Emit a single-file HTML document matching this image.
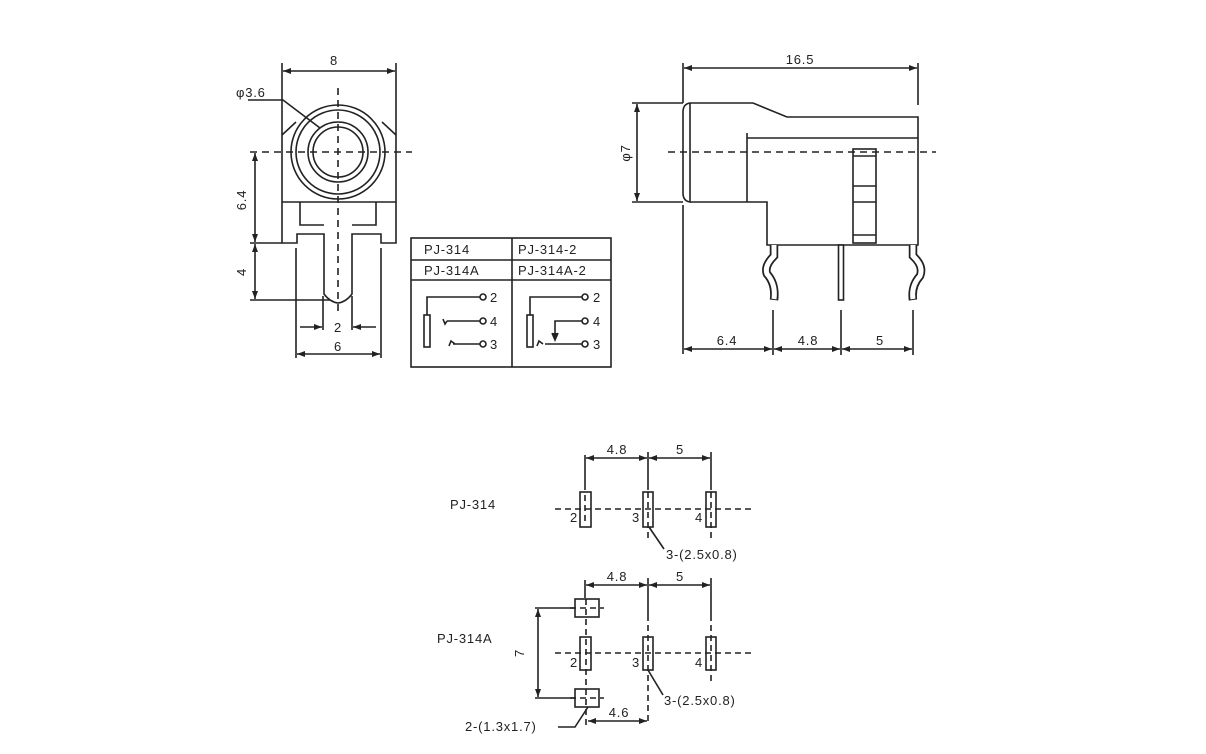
<!DOCTYPE html>
<html><head><meta charset="utf-8"><style>
html,body{margin:0;padding:0;background:#fff;}
svg{display:block;}
text{font-family:"Liberation Sans",sans-serif;font-size:13px;fill:#222;letter-spacing:0.8px;}
</style></head><body>
<svg width="1206" height="754" viewBox="0 0 1206 754" xmlns="http://www.w3.org/2000/svg">
<defs>
<marker id="a" markerWidth="8" markerHeight="6" refX="8" refY="3" orient="auto-start-reverse" markerUnits="userSpaceOnUse"><path d="M0,0 L8,3 L0,6z" fill="#222"/></marker>
</defs>
<g stroke="#222" stroke-width="1.6" fill="none">
<!-- FRONT VIEW -->
<line x1="282" y1="63" x2="282" y2="133"/><line x1="396" y1="63" x2="396" y2="133"/>
<line x1="283" y1="71" x2="395" y2="71" marker-start="url(#a)" marker-end="url(#a)"/>
<path d="M282,135 L296,122 M396,135 L382,122"/>
<circle cx="338" cy="152" r="47"/><circle cx="338" cy="152" r="42"/>
<circle cx="338" cy="152" r="30"/><circle cx="338" cy="152" r="25"/>
<path d="M282,133 L282,243 L297,243 L297,234 L324,234 L324,294 Q330,302 338,303 Q346,302 352,294 L352,234 L381,234 L381,243 L396,243 L396,133"/>
<line x1="282" y1="202" x2="396" y2="202"/>
<path d="M300,202 L300,225 L324,225 M376,202 L376,225 L352,225"/>
<g stroke-dasharray="7,5"><line x1="250" y1="152" x2="412" y2="152"/><line x1="338" y1="88" x2="338" y2="312"/></g>
<path d="M248,100 L283,100 L320,128"/>
<line x1="255" y1="153" x2="255" y2="242" marker-start="url(#a)" marker-end="url(#a)"/>
<line x1="250" y1="243" x2="282" y2="243"/>
<line x1="255" y1="244" x2="255" y2="299" marker-start="url(#a)" marker-end="url(#a)"/>
<line x1="250" y1="300" x2="330" y2="300"/>
<line x1="323" y1="296" x2="323" y2="330"/><line x1="352" y1="296" x2="352" y2="330"/>
<line x1="300" y1="327" x2="322" y2="327" marker-end="url(#a)"/><line x1="376" y1="327" x2="353" y2="327" marker-end="url(#a)"/>
<line x1="296" y1="248" x2="296" y2="358"/><line x1="381" y1="248" x2="381" y2="358"/>
<line x1="297" y1="354" x2="380" y2="354" marker-start="url(#a)" marker-end="url(#a)"/>
<!-- SIDE VIEW -->
<line x1="683" y1="63" x2="683" y2="103"/><line x1="918" y1="63" x2="918" y2="105"/>
<line x1="684" y1="68" x2="917" y2="68" marker-start="url(#a)" marker-end="url(#a)"/>
<path d="M690,103 L753,103 L787,117 L918,117 L918,245 L767,245 L767,202 L690,202"/>
<path d="M690,103 Q683,104 683,112 L683,193 Q683,201 690,202 L690,103"/>
<path d="M747,133 L747,202 M747,138 L918,138"/>
<line x1="668" y1="152" x2="936" y2="152" stroke-dasharray="7,5"/>
<rect x="853" y="149" width="23" height="94"/>
<path d="M853,156 L876,156 M853,186 L876,186 M853,202 L876,202 M853,235 L876,235"/>
<line x1="632" y1="103" x2="683" y2="103"/><line x1="632" y1="202" x2="683" y2="202"/>
<line x1="637" y1="104" x2="637" y2="201" marker-start="url(#a)" marker-end="url(#a)"/>
<line x1="683" y1="205" x2="683" y2="354"/>
<line x1="773" y1="310" x2="773" y2="355"/><line x1="841" y1="310" x2="841" y2="355"/><line x1="913" y1="310" x2="913" y2="355"/>
<line x1="684" y1="349" x2="772" y2="349" marker-start="url(#a)" marker-end="url(#a)"/>
<line x1="774" y1="349" x2="840" y2="349" marker-start="url(#a)" marker-end="url(#a)"/>
<line x1="842" y1="349" x2="912" y2="349" marker-start="url(#a)" marker-end="url(#a)"/>
</g>
<g fill="none" stroke-linecap="butt">
<path d="M774,245 L774,256 Q764,266 767,274 Q776,284 774,300" stroke="#222" stroke-width="8.5"/>
<path d="M774,245 L774,256 Q764,266 767,274 Q776,284 774,299" stroke="#fff" stroke-width="5"/>
<path d="M913,245 L913,256 Q924,266 920,276 Q911,286 913,300" stroke="#222" stroke-width="8.5"/>
<path d="M913,245 L913,256 Q924,266 920,276 Q911,286 913,299" stroke="#fff" stroke-width="5"/>
<rect x="838.5" y="245" width="5" height="55" stroke="#222" stroke-width="1.6" fill="#fff"/>
</g>
<g stroke="#222" stroke-width="1.6" fill="none">
<!-- TABLE -->
<rect x="411" y="238" width="200" height="129"/>
<line x1="411" y1="260" x2="611" y2="260"/><line x1="411" y1="280" x2="611" y2="280"/>
<line x1="512" y1="238" x2="512" y2="367"/>
<rect x="424" y="315" width="6" height="32"/>
<path d="M427,315 L427,297 L480,297 M447,321 L480,321 M443,319 L445,324 L447,321 M453,344 L480,344 M449,346 L451,341 L455,344"/>
<circle cx="483" cy="297" r="3"/><circle cx="483" cy="321" r="3"/><circle cx="483" cy="344" r="3"/>
<rect x="527" y="315" width="6" height="32"/>
<path d="M530,315 L530,297 L582,297 M555,339 L555,321 L582,321 M545,344 L582,344 M537,346 L539,341 L543,344"/>
<path d="M552,333 L555,340 L558,333" fill="#222"/>
<circle cx="585" cy="297" r="3"/><circle cx="585" cy="321" r="3"/><circle cx="585" cy="344" r="3"/>
<!-- FOOTPRINT PJ-314 -->
<line x1="585" y1="455" x2="585" y2="490"/><line x1="648" y1="452" x2="648" y2="490"/><line x1="711" y1="452" x2="711" y2="490"/>
<line x1="586" y1="458" x2="647" y2="458" marker-start="url(#a)" marker-end="url(#a)"/>
<line x1="649" y1="458" x2="710" y2="458" marker-start="url(#a)" marker-end="url(#a)"/>
<rect x="580" y="492" width="11" height="35"/><rect x="643" y="492" width="10" height="35"/><rect x="706" y="492" width="10" height="35"/>
<g stroke-dasharray="6,4"><line x1="555" y1="509" x2="755" y2="509"/><line x1="648" y1="492" x2="648" y2="542"/><line x1="711" y1="492" x2="711" y2="542"/><line x1="585" y1="495" x2="585" y2="525"/></g>
<path d="M649,527 L664,549"/>
<!-- FOOTPRINT PJ-314A -->
<line x1="585" y1="580" x2="585" y2="598"/><line x1="648" y1="578" x2="648" y2="615"/><line x1="711" y1="578" x2="711" y2="615"/>
<line x1="586" y1="585" x2="647" y2="585" marker-start="url(#a)" marker-end="url(#a)"/>
<line x1="649" y1="585" x2="710" y2="585" marker-start="url(#a)" marker-end="url(#a)"/>
<rect x="575" y="599" width="24" height="18"/><rect x="575" y="689" width="24" height="18"/>
<rect x="580" y="637" width="11" height="33"/><rect x="643" y="637" width="10" height="33"/><rect x="706" y="637" width="10" height="33"/>
<g stroke-dasharray="6,4"><line x1="555" y1="653" x2="755" y2="653"/><line x1="648" y1="615" x2="648" y2="725"/><line x1="711" y1="615" x2="711" y2="685"/><line x1="586" y1="599" x2="586" y2="725"/><line x1="570" y1="608" x2="604" y2="608"/><line x1="570" y1="698" x2="604" y2="698"/></g>
<line x1="535" y1="608" x2="575" y2="608"/><line x1="535" y1="698" x2="575" y2="698"/>
<line x1="538" y1="609" x2="538" y2="697" marker-start="url(#a)" marker-end="url(#a)"/>
<line x1="588" y1="721" x2="647" y2="721" marker-start="url(#a)" marker-end="url(#a)"/>
<path d="M558,727 L575,727 L588,707 M648,670 L663,695"/>
</g>
<!-- TEXT -->
<text x="334" y="65" text-anchor="middle">8</text>
<text x="236" y="97">φ3.6</text>
<text transform="translate(246,200) rotate(-90)" text-anchor="middle">6.4</text>
<text transform="translate(246,272) rotate(-90)" text-anchor="middle">4</text>
<text x="338" y="332" text-anchor="middle">2</text>
<text x="338" y="351" text-anchor="middle">6</text>
<text x="800" y="64" text-anchor="middle">16.5</text>
<text transform="translate(630,153) rotate(-90)" text-anchor="middle">φ7</text>
<text x="727" y="345" text-anchor="middle">6.4</text>
<text x="808" y="345" text-anchor="middle">4.8</text>
<text x="880" y="345" text-anchor="middle">5</text>
<text x="424" y="254" font-size="12">PJ-314</text>
<text x="518" y="254" font-size="12">PJ-314-2</text>
<text x="424" y="275" font-size="12">PJ-314A</text>
<text x="518" y="275" font-size="12">PJ-314A-2</text>
<text x="490" y="302">2</text><text x="490" y="326">4</text><text x="490" y="349">3</text>
<text x="593" y="302">2</text><text x="593" y="326">4</text><text x="593" y="349">3</text>
<text x="617" y="454" text-anchor="middle">4.8</text><text x="680" y="454" text-anchor="middle">5</text>
<text x="450" y="509">PJ-314</text>
<text x="570" y="522">2</text><text x="632" y="522">3</text><text x="695" y="522">4</text>
<text x="666" y="559">3-(2.5x0.8)</text>
<text x="617" y="581" text-anchor="middle">4.8</text><text x="680" y="581" text-anchor="middle">5</text>
<text x="437" y="643">PJ-314A</text>
<text transform="translate(524,653) rotate(-90)" text-anchor="middle">7</text>
<text x="570" y="667">2</text><text x="632" y="667">3</text><text x="695" y="667">4</text>
<text x="664" y="705">3-(2.5x0.8)</text>
<text x="619" y="717" text-anchor="middle">4.6</text>
<text x="465" y="731">2-(1.3x1.7)</text>
</svg>
</body></html>
